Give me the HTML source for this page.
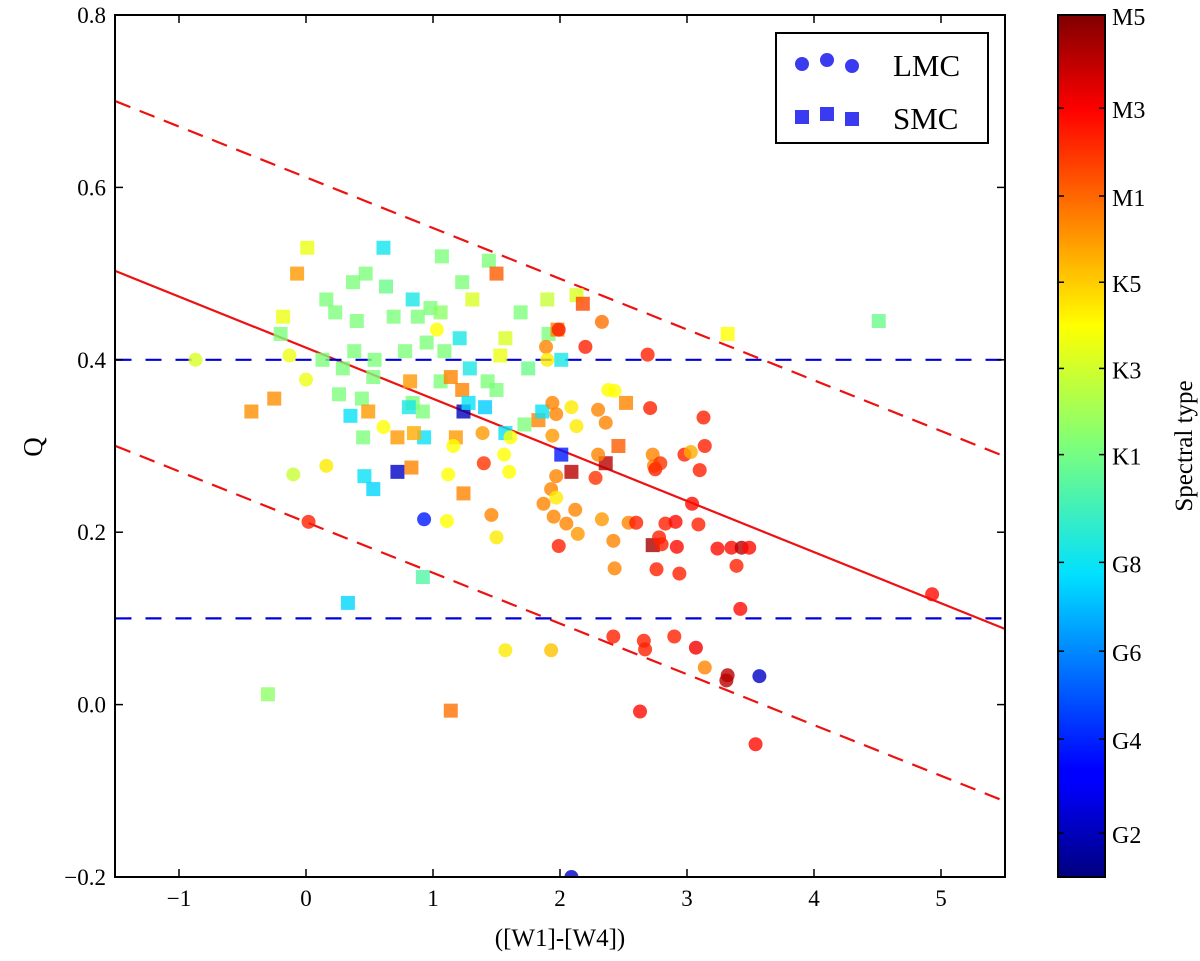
<!DOCTYPE html>
<html><head><meta charset="utf-8">
<style>
body{margin:0;background:#fff;}
svg text{font-family:"Liberation Serif",serif;fill:#000;}
</style></head>
<body>
<svg id="chart" width="1200" height="956" xmlns="http://www.w3.org/2000/svg">
<defs>
<linearGradient id="jet" x1="0" y1="1" x2="0" y2="0">
<stop offset="0" stop-color="#00007f"/><stop offset="0.11" stop-color="#0000ff"/>
<stop offset="0.125" stop-color="#0000ff"/><stop offset="0.35" stop-color="#00e0ff"/>
<stop offset="0.5" stop-color="#7dff7a"/><stop offset="0.64" stop-color="#ffff00"/>
<stop offset="0.89" stop-color="#ff0000"/><stop offset="1" stop-color="#7f0000"/>
</linearGradient>
<clipPath id="clip"><rect x="115" y="15" width="890" height="862"/></clipPath>
</defs>
<g id="lines" clip-path="url(#clip)"></g>
<g id="marks" clip-path="url(#clip)"></g>
<rect x="115" y="15" width="890" height="862" fill="none" stroke="#000" stroke-width="2"/>
<g id="axes"></g>
<g>
<rect x="776" y="33" width="212" height="110" fill="#fff" stroke="#000" stroke-width="2"/>
<circle cx="802" cy="64" r="7" fill="#3a3af0"/>
<circle cx="827" cy="60" r="7" fill="#3a3af0"/>
<circle cx="852" cy="66" r="7" fill="#3a3af0"/>
<rect x="795" y="110" width="14" height="14" fill="#3a3af0"/>
<rect x="820" y="107" width="14" height="14" fill="#3a3af0"/>
<rect x="845" y="112" width="14" height="14" fill="#3a3af0"/>
<text x="893" y="76" font-size="31">LMC</text>
<text x="893" y="129" font-size="31">SMC</text>
</g>
<g>
<rect x="1058" y="15" width="47" height="862" fill="url(#jet)" stroke="#000" stroke-width="2"/>
<g id="cbticks"></g>
<text transform="translate(1192,446) rotate(-90)" text-anchor="middle" font-size="25">Spectral type</text>
</g>
<text x="560" y="946" text-anchor="middle" font-size="25">([W1]-[W4])</text>
<text transform="translate(42,447) rotate(-90)" text-anchor="middle" font-size="27">Q</text>
</svg>
<script>
const xTicks=[-1,0,1,2,3,4,5];
const yTicks=[-0.2,0.0,0.2,0.4,0.6,0.8];
const cbLabels=["M5","M3","M1","K5","K3","K1","G8","G6","G4","G2"];
const cbPos=[1.0,0.892,0.79,0.69,0.59,0.49,0.365,0.262,0.16,0.051];
// SMC squares: x, Q, spectral value (0=G early, 1=M5)
const smcX=[0.01,0.61,-0.07,1.07,1.44,1.50,0.16,0.37,0.47,0.63,0.84,1.23,-0.18,-0.2,0.23,0.40,0.69,0.88,0.98,1.31,1.69,1.90,2.13,2.18,1.57,1.91,1.98,3.32,4.51,0.13,0.29,0.54,0.78,0.95,1.09,1.21,1.53,1.75,2.01,0.82,1.06,1.29,1.43,1.14,1.23,1.24,1.41,1.28,1.50,0.44,0.26,0.84,0.81,-0.43,-0.25,0.35,0.49,0.92,0.45,0.72,0.93,0.85,1.18,1.57,1.83,2.01,1.72,2.46,2.52,2.09,2.36,2.73,0.72,0.83,0.46,0.53,1.24,0.92,0.33,-0.3,1.14,1.86,0.53,0.38,1.06];
const smcQ=[0.53,0.53,0.50,0.52,0.515,0.50,0.47,0.49,0.50,0.485,0.47,0.49,0.45,0.43,0.455,0.445,0.45,0.45,0.46,0.47,0.455,0.47,0.475,0.465,0.425,0.43,0.435,0.43,0.445,0.40,0.39,0.40,0.41,0.42,0.41,0.425,0.405,0.39,0.40,0.375,0.375,0.39,0.375,0.38,0.365,0.34,0.345,0.35,0.365,0.355,0.36,0.35,0.345,0.34,0.355,0.335,0.34,0.34,0.31,0.31,0.31,0.315,0.31,0.315,0.33,0.29,0.325,0.30,0.35,0.27,0.28,0.185,0.27,0.275,0.265,0.25,0.245,0.148,0.118,0.012,-0.007,0.34,0.38,0.41,0.455];
const smcT=[0.62,0.37,0.74,0.5,0.5,0.8,0.5,0.5,0.5,0.48,0.38,0.5,0.62,0.5,0.5,0.5,0.5,0.5,0.5,0.6,0.5,0.58,0.6,0.82,0.6,0.5,0.76,0.64,0.48,0.5,0.5,0.5,0.5,0.5,0.5,0.38,0.62,0.48,0.38,0.74,0.5,0.38,0.5,0.76,0.76,0.05,0.33,0.36,0.5,0.5,0.5,0.5,0.38,0.75,0.75,0.36,0.74,0.5,0.5,0.74,0.36,0.72,0.74,0.36,0.76,0.15,0.5,0.8,0.76,0.95,0.95,0.97,0.06,0.76,0.36,0.34,0.76,0.45,0.34,0.52,0.78,0.36,0.5,0.5,0.52];
// LMC circles
const lmcX=[-0.87,-0.13,0.0,-0.1,0.02,0.16,0.61,1.03,1.11,0.93,1.12,1.16,1.39,1.46,1.50,1.40,1.56,1.61,1.6,1.57,1.93,1.93,1.87,1.97,1.97,1.95,1.94,1.94,1.97,1.89,1.99,1.90,2.05,1.99,2.12,2.14,2.09,2.13,2.2,2.28,2.3,2.3,2.36,2.38,2.43,2.33,2.42,2.43,2.54,2.42,2.33,2.6,2.69,2.71,2.73,2.74,2.75,2.79,2.78,2.76,2.80,2.83,2.91,2.92,2.94,2.98,3.03,3.04,3.09,3.13,3.14,3.10,3.24,3.35,3.43,3.49,3.39,3.42,2.66,2.67,2.9,3.07,3.14,3.32,3.31,3.57,2.63,3.54,4.93,2.09];
const lmcQ=[0.40,0.405,0.377,0.267,0.212,0.277,0.322,0.435,0.213,0.215,0.267,0.30,0.315,0.22,0.194,0.28,0.29,0.31,0.27,0.063,0.063,0.25,0.233,0.24,0.265,0.218,0.312,0.35,0.337,0.415,0.435,0.40,0.21,0.184,0.226,0.198,0.345,0.323,0.415,0.263,0.29,0.342,0.327,0.365,0.364,0.215,0.19,0.158,0.211,0.079,0.444,0.211,0.406,0.344,0.29,0.277,0.273,0.28,0.194,0.157,0.186,0.21,0.212,0.183,0.152,0.29,0.293,0.233,0.209,0.333,0.30,0.272,0.181,0.182,0.182,0.182,0.161,0.111,0.074,0.064,0.079,0.066,0.043,0.034,0.028,0.033,-0.008,-0.046,0.128,-0.2];
const lmcT=[0.6,0.62,0.62,0.58,0.86,0.66,0.64,0.64,0.64,0.15,0.64,0.64,0.74,0.76,0.66,0.84,0.64,0.64,0.64,0.66,0.7,0.76,0.76,0.66,0.76,0.76,0.74,0.76,0.76,0.76,0.86,0.66,0.76,0.86,0.76,0.74,0.66,0.66,0.86,0.84,0.76,0.76,0.76,0.64,0.64,0.74,0.76,0.76,0.76,0.86,0.78,0.86,0.86,0.86,0.76,0.76,0.86,0.84,0.86,0.86,0.86,0.86,0.88,0.88,0.86,0.86,0.72,0.88,0.86,0.86,0.86,0.86,0.88,0.88,0.95,0.88,0.86,0.88,0.86,0.86,0.86,0.9,0.76,0.95,0.95,0.06,0.88,0.88,0.88,0.06];

const X=v=>306+127*v, Y=v=>704.6-862*v/1.0;
const NS="http://www.w3.org/2000/svg";
function mk(tag,attrs,parent){const e=document.createElementNS(NS,tag);for(const k in attrs)e.setAttribute(k,attrs[k]);parent.appendChild(e);return e;}
function jet(t){
  const st=[[0,0,0,127],[0.11,0,0,255],[0.125,0,0,255],[0.35,0,224,255],[0.5,125,255,122],[0.64,255,255,0],[0.89,255,0,0],[1,127,0,0]];
  for(let i=1;i<st.length;i++){if(t<=st[i][0]){const a=st[i-1],b=st[i],f=(t-a[0])/(b[0]-a[0]||1);
    return `rgb(${Math.round(a[1]+f*(b[1]-a[1]))},${Math.round(a[2]+f*(b[2]-a[2]))},${Math.round(a[3]+f*(b[3]-a[3]))})`;}}
  return "rgb(127,0,0)";
}
const axes=document.getElementById('axes');
xTicks.forEach(v=>{
  let l=mk('line',{x1:X(v),x2:X(v),y1:877,y2:869,stroke:'#000','stroke-width':1.5},axes);
  
  
  l=mk('line',{x1:X(v),x2:X(v),y1:15,y2:23,stroke:'#000','stroke-width':1.5},axes);
  
  
  const t=mk('text',{x:X(v),y:906,'text-anchor':'middle','font-size':23},axes);
  t.textContent=(v<0?'\u2212':'')+Math.abs(v);
  
  
});
yTicks.forEach(v=>{
  let l=mk('line',{x1:115,x2:123,y1:Y(v),y2:Y(v),stroke:'#000','stroke-width':1.5},axes);
  
  
  l=mk('line',{x1:1005,x2:997,y1:Y(v),y2:Y(v),stroke:'#000','stroke-width':1.5},axes);
  
  
  const t=mk('text',{x:106,y:Y(v)+8,'text-anchor':'end','font-size':23},axes);
  t.textContent=(v<0?'\u2212':'')+Math.abs(v).toFixed(1);
  
  
});
const cb=document.getElementById('cbticks');
cbLabels.forEach((s,i)=>{
  const y=877-862*cbPos[i];
  let l=mk('line',{x1:1058,x2:1064,y1:y,y2:y,stroke:'#000','stroke-width':1.5},cb);
  
  
  l=mk('line',{x1:1105,x2:1099,y1:y,y2:y,stroke:'#000','stroke-width':1.5},cb);
  
  
  const t=mk('text',{x:1112,y:y+10,'font-size':24},cb);
  t.textContent=s;
  
  
});
const lines=document.getElementById('lines');
const lineDefs=[
 {n:'fit-line',x1:-1.5,y1:0.503,x2:5.5,y2:0.088,c:'#ee1111',d:''},
 {n:'upper-bound-line',x1:-1.5,y1:0.700,x2:5.5,y2:0.288,c:'#ee1111',d:'16 10'},
 {n:'lower-bound-line',x1:-1.5,y1:0.300,x2:5.5,y2:-0.112,c:'#ee1111',d:'16 10'},
 {n:'q-04-line',x1:-1.5,y1:0.4,x2:5.5,y2:0.4,c:'#0000dd',d:'16 14'},
 {n:'q-01-line',x1:-1.5,y1:0.1,x2:5.5,y2:0.1,c:'#0000dd',d:'16 14'}];
lineDefs.forEach(o=>{
  const l=mk('line',{x1:X(o.x1),y1:Y(o.y1),x2:X(o.x2),y2:Y(o.y2),stroke:o.c,'stroke-width':2.2,'stroke-dasharray':o.d},lines);
  
  
});
const marks=document.getElementById('marks');
smcX.forEach((v,i)=>{
  const r=mk('rect',{x:X(v)-7,y:Y(smcQ[i])-7,width:14,height:14,fill:jet(smcT[i]),'fill-opacity':0.8},marks);
  
  
});
lmcX.forEach((v,i)=>{
  const c=mk('circle',{cx:X(v),cy:Y(lmcQ[i]),r:7,fill:jet(lmcT[i]),'fill-opacity':0.8},marks);
  
  
});
</script>
</body></html>
